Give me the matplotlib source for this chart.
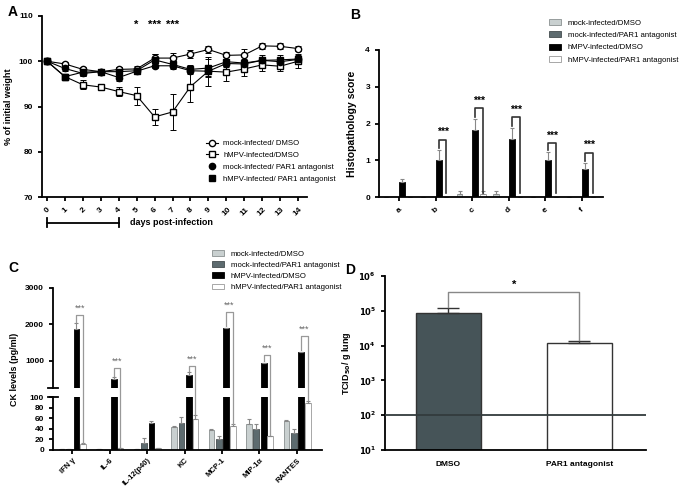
import numpy as np
import matplotlib.pyplot as plt
import matplotlib.transforms as mtrans
from matplotlib.lines import Line2D
from matplotlib.patches import Patch

plt.rcParams['font.family'] = ['Liberation Sans', 'DejaVu Sans']

# ---- panel A: body weight ----
days = np.arange(15)
mock_dmso = [100, 99.4, 98.2, 97.7, 98.2, 98.3, 100.7, 100.7, 101.6, 102.6, 101.3, 101.4, 103.4, 103.3, 102.8]
mock_dmso_err = [0, 0.4, 0.6, 0.5, 0.5, 0.7, 1.0, 1.1, 0.8, 0.7, 0.8, 1.2, 0.7, 0.7, 0.6]
hmpv_dmso = [100, 96.6, 94.8, 94.3, 93.3, 92.4, 87.7, 88.8, 94.4, 97.8, 97.6, 98.3, 99.2, 98.9, 100.0]
hmpv_dmso_err = [0, 0.5, 1.0, 0.6, 1.0, 2.0, 1.7, 4.0, 3.3, 3.2, 1.9, 1.5, 1.3, 1.0, 1.4]
mock_par1 = [100, 98.4, 97.3, 97.7, 96.4, 97.8, 99.0, 99.0, 97.9, 97.8, 99.5, 99.4, 100.2, 99.9, 100.4]
mock_par1_err = [0, 0.5, 0.6, 0.5, 0.7, 0.6, 0.6, 0.7, 0.7, 1.0, 0.7, 0.6, 0.8, 0.7, 0.8]
hmpv_par1 = [100, 96.6, 97.6, 97.7, 97.7, 97.9, 100.3, 99.3, 98.2, 98.5, 99.9, 99.6, 100.2, 100.3, 100.5]
hmpv_par1_err = [0, 0.4, 0.8, 0.6, 1.0, 0.6, 1.2, 0.9, 0.9, 2.0, 1.0, 0.8, 1.2, 1.0, 1.0]
star_days = [5, 6, 7]
star_text = ['*', '***', '***']

# ---- panel B: histopathology ----
hist_cats = ['a', 'b', 'c', 'd', 'e', 'f']
hist_mock_dmso = [0, 0, 0.07, 0.07, 0, 0]
hist_mock_dmso_err = [0, 0, 0.08, 0.08, 0, 0]
hist_mock_par1 = [0, 0, 0, 0, 0, 0]
hist_hmpv_dmso = [0.42, 1.0, 1.83, 1.58, 1.0, 0.75]
hist_hmpv_dmso_err = [0.08, 0.27, 0.3, 0.3, 0.22, 0.17]
hist_hmpv_par1 = [0, 0, 0.07, 0, 0, 0]
hist_hmpv_par1_err = [0, 0, 0.08, 0, 0, 0]
hist_brk_top = [None, 1.56, 2.41, 2.18, 1.47, 1.21]

# ---- panel C: cytokines ----
ck_cats = ['IFN γ', 'IL-6', 'IL-12(p40)', 'KC', 'MCP-1', 'MIP-1α', 'RANTES']
ck_mock_dmso = [2, 1, 2, 43, 38, 50, 55]
ck_mock_dmso_err = [0.5, 0.3, 0.5, 3, 1, 9, 2]
ck_mock_par1 = [2, 0.3, 14, 51, 21, 40, 32]
ck_mock_par1_err = [0.5, 0.2, 8, 12, 5, 10, 7]
ck_hmpv_dmso = [1870, 490, 51, 620, 1890, 950, 1250]
ck_hmpv_dmso_err = [180, 80, 4, 80, 0, 0, 0]
ck_hmpv_par1 = [11, 3, 4, 59, 46, 26, 89]
ck_hmpv_par1_err = [2, 0.5, 0.5, 8, 3, 1, 4]
ck_brk_top = [2250, 800, None, 850, 2330, 1150, 1670]
ck_brk_left = [2060, 580, None, 710, 1960, 1000, 1300]

# ---- panel D: viral titre ----
d_cats = ['DMSO', 'PAR1 antagonist']
d_vals = [8.7e4, 1.17e4]
d_err = [3.3e4, 2.3e3]
d_limit = 100

W, H = 683, 487


def box(l, t, r, b):
    return [l / W, 1 - b / H, (r - l) / W, (b - t) / H]


def style(ax, lw=1.3):
    for s in ['top', 'right']:
        ax.spines[s].set_visible(False)
    for s in ['left', 'bottom']:
        ax.spines[s].set_linewidth(lw)
    ax.tick_params(width=lw, length=3, labelsize=6)
    for lab in ax.get_xticklabels() + ax.get_yticklabels():
        lab.set_fontweight('bold')


fig = plt.figure(figsize=(W / 100, H / 100), dpi=100)

c_ld = '#c9d0d0'
c_dk = '#5d6b6f'
bar_cols = [c_ld, c_dk, 'black', 'white']
bar_edges = ['#8a9090', '#444c4f', 'black', '#999999']
labels4 = ['mock-infected/DMSO', 'mock-infected/PAR1 antagonist',
           'hMPV-infected/DMSO', 'hMPV-infected/PAR1 antagonist']
leg_fs = 5.6

# ================= A =================
axA = fig.add_axes(box(42, 16, 307, 197))
kw = dict(color='black', mec='black', lw=0.8, ms=4.5, capsize=2, elinewidth=0.7, capthick=0.7)
axA.errorbar(days, mock_dmso, yerr=mock_dmso_err, marker='o', mfc='white', **kw)
axA.errorbar(days, hmpv_dmso, yerr=hmpv_dmso_err, marker='s', mfc='white', **kw)
axA.errorbar(days, mock_par1, yerr=mock_par1_err, marker='o', mfc='black', **kw)
axA.errorbar(days, hmpv_par1, yerr=hmpv_par1_err, marker='s', mfc='black', **kw)
axA.set_ylim(70, 110)
axA.set_xlim(-0.28, 14.5)
axA.set_yticks([70, 80, 90, 100, 110])
axA.set_xticks(days)
axA.set_xticklabels([str(d) for d in days], rotation=45, ha='center')
axA.set_ylabel('% of initial weight', fontsize=6.5, fontweight='bold', labelpad=4)
style(axA)
for d, s in zip(star_days, star_text):
    axA.text(d, 108.0, s, ha='center', va='center', fontsize=8, fontweight='bold')
trA = mtrans.blended_transform_factory(axA.transData, axA.transAxes)
axA.plot([0, 4], [-0.142, -0.142], color='black', lw=1.3, transform=trA, clip_on=False)
for d in [0, 4]:
    axA.plot([d, d], [-0.118, -0.166], color='black', lw=1.3, transform=trA, clip_on=False)
axA.text(0.487, -0.142, 'days post-infection', transform=axA.transAxes, ha='center',
         va='center', fontsize=6.5, fontweight='bold')
hA = [Line2D([], [], color='black', lw=0.8, marker='o', mfc='white', mec='black', ms=4.5),
      Line2D([], [], color='black', lw=0.8, marker='s', mfc='white', mec='black', ms=4.5),
      Line2D([], [], ls='none', marker='o', mfc='black', mec='black', ms=4.5),
      Line2D([], [], ls='none', marker='s', mfc='black', mec='black', ms=4.5)]
axA.legend(hA, ['mock-infected/ DMSO', 'hMPV-infected/DMSO',
                'mock-infected/ PAR1 antagonist', 'hMPV-infected/ PAR1 antagonist'],
           loc='upper left', bbox_to_anchor=(206 / W, 1 - 140 / H), bbox_transform=fig.transFigure,
           frameon=False, fontsize=leg_fs, handlelength=1.6, labelspacing=0.55,
           borderpad=0, borderaxespad=0, handletextpad=0.6)
fig.text(8 / W, 1 - 12 / H, 'A', fontsize=10, fontweight='bold', va='center', ha='left')

# ================= B =================
axB = fig.add_axes(box(379, 50, 603, 197))
xb = np.arange(len(hist_cats))
offB = [-0.345, -0.13, 0.082, 0.296]
wB = 0.16
serB = [(hist_mock_dmso, hist_mock_dmso_err), (hist_mock_par1, None),
        (hist_hmpv_dmso, hist_hmpv_dmso_err), (hist_hmpv_par1, hist_hmpv_par1_err)]
for i, (v, e) in enumerate(serB):
    yerr = None if e is None else [np.zeros(len(e)), e]
    axB.bar(xb + offB[i], v, wB, color=bar_cols[i], edgecolor=bar_edges[i], lw=0.6,
            yerr=yerr, ecolor='#888888', error_kw=dict(lw=0.8, capsize=1.5, capthick=0.8))
for i, top in enumerate(hist_brk_top):
    if top is None:
        continue
    xl, xr = i + offB[2], i + offB[3]
    left_end = hist_hmpv_dmso[i] + hist_hmpv_dmso_err[i] + 0.06
    axB.plot([xl, xl, xr, xr], [left_end, top, top, 0.1], color='#333333', lw=1.2, zorder=3)
    axB.text((xl + xr) / 2, top + 0.2, '***', ha='center', va='center', fontsize=7.5,
             fontweight='bold')
axB.set_ylim(0, 4)
axB.set_xlim(-0.55, 5.58)
axB.set_yticks([0, 1, 2, 3, 4])
axB.set_xticks(xb)
axB.set_xticklabels(hist_cats, rotation=45, ha='center')
axB.set_ylabel('Histopathology score', fontsize=7.5, fontweight='bold', labelpad=6)
style(axB)
hB = [Patch(facecolor=bar_cols[i], edgecolor=bar_edges[i], lw=0.6) for i in range(4)]
axB.legend(hB, labels4, loc='upper left', bbox_to_anchor=(549 / W, 1 - 19 / H),
           bbox_transform=fig.transFigure, frameon=False, fontsize=leg_fs, handlelength=1.6,
           handleheight=0.8, labelspacing=0.6, borderpad=0, borderaxespad=0, handletextpad=0.8)
fig.text(350 / W, 1 - 15 / H, 'B', fontsize=10, fontweight='bold', va='center', ha='left')

# ================= C =================
axC = fig.add_axes(box(53, 288, 322, 450))
brk_v = [0, 100, 250, 3000]
brk_t = [0, 100, 117, 306.5]


def fwd(v):
    return np.interp(v, brk_v, brk_t)


def inv(t):
    return np.interp(t, brk_t, brk_v)


axC.set_yscale('function', functions=(fwd, inv))
xc = np.arange(len(ck_cats))
offC = [-0.28, -0.085, 0.115, 0.29]
wC = 0.15
serC = [(ck_mock_dmso, ck_mock_dmso_err), (ck_mock_par1, ck_mock_par1_err),
        (ck_hmpv_dmso, ck_hmpv_dmso_err), (ck_hmpv_par1, ck_hmpv_par1_err)]
for i, (v, e) in enumerate(serC):
    axC.bar(xc + offC[i], v, wC, color=bar_cols[i], edgecolor=bar_edges[i], lw=0.6,
            yerr=[np.zeros(len(e)), e], ecolor='#888888',
            error_kw=dict(lw=0.8, capsize=1.5, capthick=0.8))
axC.axhspan(100, 250, color='white', zorder=2.5, lw=0)
for i, top in enumerate(ck_brk_top):
    if top is None:
        continue
    xl, xr = i + offC[2], i + offC[3]
    right_end = ck_hmpv_par1[i] + ck_hmpv_par1_err[i] + 1
    axC.plot([xl, xl, xr, xr], [ck_brk_left[i], top, top, right_end], color='#999999',
             lw=0.9, zorder=3)
    axC.text((xl + xr) / 2, top + 200, '***', ha='center', va='center', fontsize=6.5,
             color='#666666')
axC.set_ylim(0, 3000)
axC.set_xlim(-0.51, 6.67)
axC.set_yticks([0, 20, 40, 60, 80, 100, 1000, 2000, 3000])
axC.set_xticks(xc)
axC.set_xticklabels(ck_cats, rotation=45, ha='right', rotation_mode='anchor')
axC.set_ylabel('CK levels (pg/ml)', fontsize=6.5, fontweight='bold', labelpad=4)
style(axC)
axC.tick_params(axis='x', labelsize=5.5, pad=2)
axC.spines['left'].set_visible(False)
trC = mtrans.blended_transform_factory(axC.transAxes, axC.transData)
for seg in [(0, 100), (250, 3000)]:
    axC.plot([0, 0], seg, color='black', lw=1.3, transform=trC, clip_on=False, zorder=4)
for yb in [100, 250]:
    axC.plot([-0.018, 0.018], [yb, yb], color='black', lw=1.3, transform=trC,
             clip_on=False, zorder=4)
hC = [Patch(facecolor=bar_cols[i], edgecolor=bar_edges[i], lw=0.6) for i in range(4)]
axC.legend(hC, labels4, loc='upper left', bbox_to_anchor=(212 / W, 1 - 250 / H),
           bbox_transform=fig.transFigure, frameon=False, fontsize=leg_fs, handlelength=1.6,
           handleheight=0.8, labelspacing=0.45, borderpad=0, borderaxespad=0, handletextpad=0.8)
fig.text(8 / W, 1 - 268 / H, 'C', fontsize=10, fontweight='bold', va='center', ha='left')

# ================= D =================
axD = fig.add_axes(box(385, 276, 646, 450))
xd = np.arange(len(d_cats))
axD.set_yscale('log')
axD.bar(xd, d_vals, 0.5, bottom=10, color=['#465458', 'white'], edgecolor='#333333', lw=1.0,
        yerr=[[0, 0], d_err], ecolor='#333333', error_kw=dict(lw=1.0, capsize=8, capthick=1.0))
axD.axhline(d_limit, color='#333b3d', lw=1.3, zorder=3)
axD.plot([0, 0, 1, 1], [1.3e5, 3.5e5, 3.5e5, 1.45e4], color='#888888', lw=1.0, zorder=3)
axD.text(0.5, 5.6e5, '*', ha='center', va='center', fontsize=8, fontweight='bold')
axD.set_ylim(10, 1e6)
axD.set_xlim(-0.485, 1.51)
axD.set_yticks([1e1, 1e2, 1e3, 1e4, 1e5, 1e6])
axD.set_yticklabels([r'$\mathbf{10^{%d}}$' % k for k in range(1, 7)])
axD.minorticks_off()
axD.set_xticks(xd)
axD.set_xticklabels(d_cats)
axD.set_ylabel(r'TCID$_{\mathbf{50}}$/ g lung', fontsize=6.5, fontweight='bold', labelpad=4)
style(axD)
axD.tick_params(axis='x', length=0, pad=8)
fig.text(345 / W, 1 - 270 / H, 'D', fontsize=10, fontweight='bold', va='center', ha='left')

fig.savefig('out.png', dpi=100)
